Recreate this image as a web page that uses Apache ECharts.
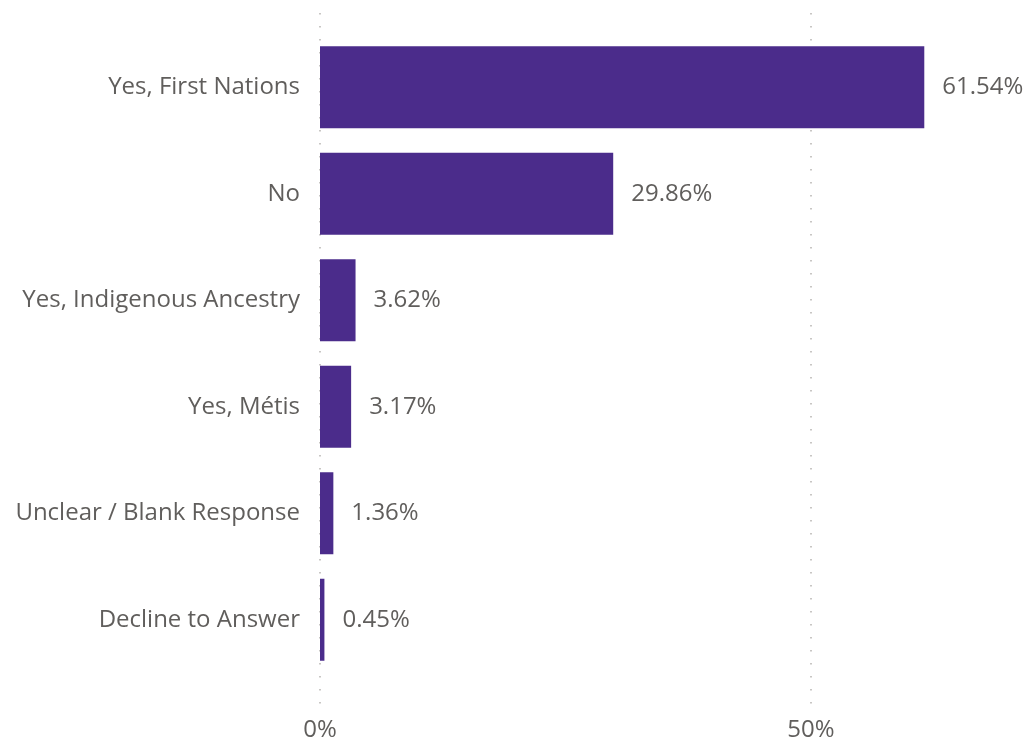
<!DOCTYPE html>
<html>
<head>
<meta charset="utf-8">
<script src="https://cdn.jsdelivr.net/npm/echarts@6/dist/echarts.min.js"></script>
<style>
  html, body { margin: 0; padding: 0; background: #fff; }
  #chart { width: 1027px; height: 742px; }
</style>
</head>
<body>
<div id="chart"></div>
<script>
// categories, top to bottom
const categories = ['Yes, First Nations', 'No', 'Yes, Indigenous Ancestry', 'Yes, Métis', 'Unclear / Blank Response', 'Decline to Answer'];
const values = [61.54, 29.86, 3.62, 3.17, 1.36, 0.45];
const ticks = [0, 50];

const fontFamily = '"Open Sans", "Noto Sans", sans-serif';
const textColor = '#605E5C';
const barColor = '#4B2C8B';
const axisMax = 72;

const chart = echarts.init(document.getElementById('chart'), null, { renderer: 'canvas' });

// 0% sits at x=320, 50% at x=811, right edge of the picture ~72%
chart.setOption({
  animation: false,
  grid: [
    { left: 320, right: 0, top: 34, bottom: 69 },   // bars
    { left: 320, right: 0, top: 13, bottom: 35 }    // dotted gridlines + tick labels
  ],
  xAxis: [
    {
      gridIndex: 0, type: 'value', min: 0, max: axisMax, interval: 50,
      axisLine: { show: false }, axisTick: { show: false },
      axisLabel: { show: false }, splitLine: { show: false }
    },
    {
      gridIndex: 1, type: 'value', min: 0, max: axisMax, interval: 50,
      axisLine: { show: false }, axisTick: { show: false },
      axisLabel: {
        margin: 12, color: textColor, fontSize: 24, fontFamily, showMaxLabel: false,
        formatter: v => ticks.includes(v) ? v + '%' : ''
      },
      splitLine: {
        show: true, showMaxLine: false,
        lineStyle: { color: '#C8C6C4', type: [1.5, 11.5], width: 2 }
      }
    }
  ],
  yAxis: [
    {
      gridIndex: 0, type: 'category', data: categories, inverse: true,
      axisLine: { show: false }, axisTick: { show: false },
      axisLabel: { margin: 20, color: textColor, fontSize: 24, fontFamily }
    },
    {
      gridIndex: 1, type: 'category', data: [''], show: false
    }
  ],
  series: [{
    type: 'bar',
    xAxisIndex: 0, yAxisIndex: 0,
    data: values,
    barCategoryGap: '23%',
    itemStyle: { color: barColor },
    label: {
      show: true, position: 'right', distance: 18,
      color: textColor, fontSize: 24, fontFamily,
      formatter: p => p.value.toFixed(2) + '%'
    }
  }]
});
</script>
</body>
</html>
